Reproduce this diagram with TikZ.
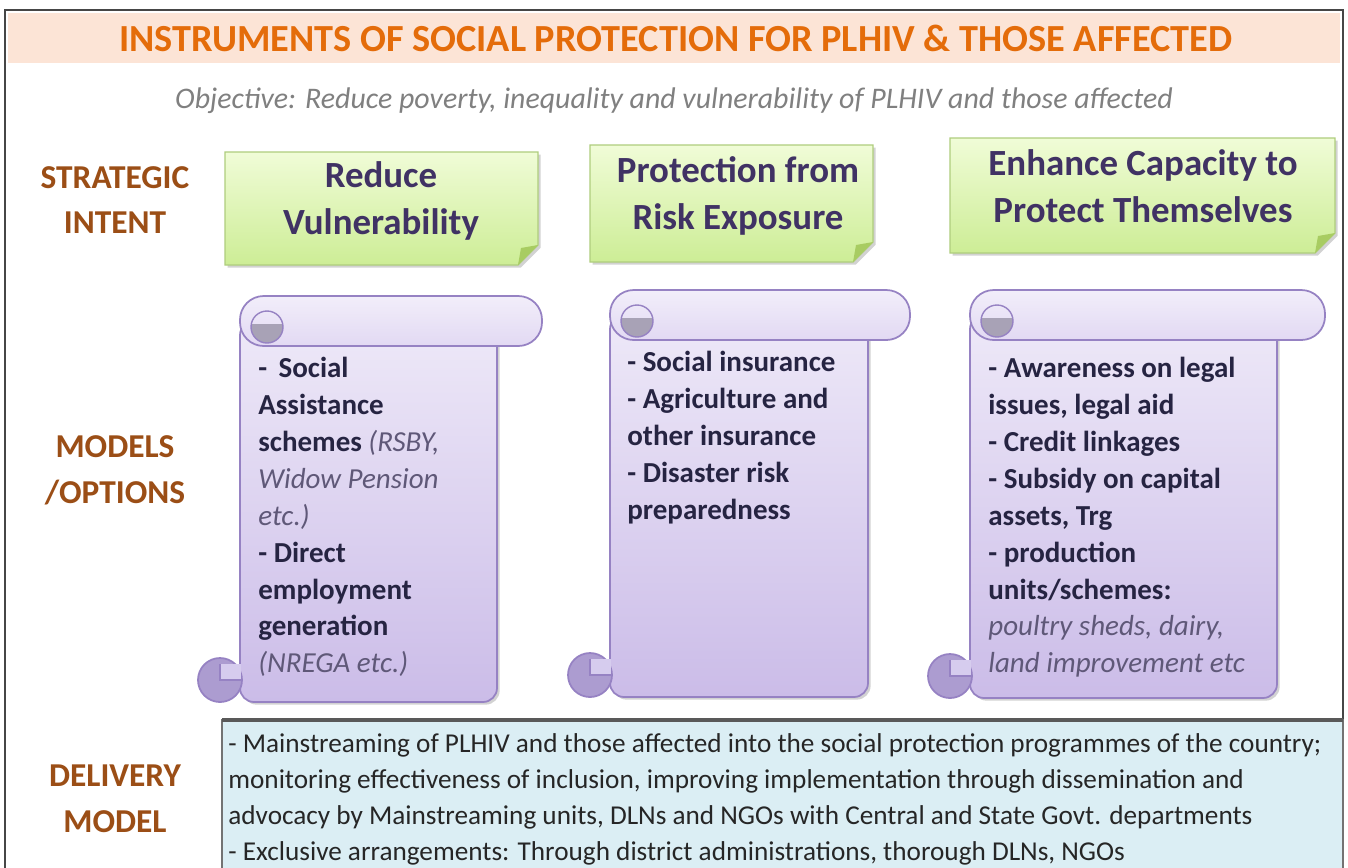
\documentclass[tikz,border=0pt]{standalone}
\usepackage{fontspec}
\setmainfont{Carlito}
\usetikzlibrary{shadows}

\begin{document}
\begin{tikzpicture}[
    x=0.02cm, y=-0.02cm,
    font=\fontsize{15}{18}\selectfont,
    rowlabel/.style={font=\bfseries\fontsize{19}{26}\selectfont, text=lblBrown, align=center, inner sep=0pt},
    intentbox/.style={draw=boxEdge, line width=0.6pt, top color=boxTop, bottom color=boxBot,
        drop shadow={opacity=0.35, shadow xshift=1.5pt, shadow yshift=-1.5pt}},
    intenttext/.style={font=\bfseries\fontsize{21}{26.6}\selectfont, text=intentInk, align=center, inner sep=0pt},
    scrollbody/.style={draw=scrollEdge, line width=1pt, top color=lavTop, bottom color=lavBot,
        drop shadow={opacity=0.35, shadow xshift=1.5pt, shadow yshift=-1.5pt}},
    scrollroll/.style={draw=scrollEdge, line width=1pt, top color=rollTop, bottom color=rollBot},
    scrolltext/.style={font=\bfseries\fontsize{16.5}{21}\selectfont, text=scrollInk, align=left, anchor=north west, inner sep=0pt},
    delivtext/.style={font=\fontsize{15.5}{20.6}\selectfont, text=black!85, align=left, anchor=north west, inner sep=0pt},
]

\definecolor{titleBand}{RGB}{252,228,214}
\definecolor{titleInk}{RGB}{228,108,10}
\definecolor{lblBrown}{RGB}{155,78,22}
\definecolor{objInk}{RGB}{128,128,128}
\definecolor{boxTop}{RGB}{240,252,215}
\definecolor{boxBot}{RGB}{205,237,150}
\definecolor{boxEdge}{RGB}{175,205,125}
\definecolor{boxFold}{RGB}{168,204,98}
\definecolor{intentInk}{RGB}{64,50,100}
\definecolor{lavTop}{RGB}{238,233,248}
\definecolor{lavBot}{RGB}{203,188,232}
\definecolor{rollTop}{RGB}{242,238,250}
\definecolor{rollBot}{RGB}{226,217,243}
\definecolor{scrollEdge}{RGB}{150,130,195}
\definecolor{curlGray}{RGB}{168,162,182}
\definecolor{curlLav}{RGB}{172,156,208}
\definecolor{notchLav}{RGB}{214,204,238}
\definecolor{scrollInk}{RGB}{38,36,66}
\definecolor{scrollSoft}{RGB}{95,88,120}
\definecolor{delivFill}{RGB}{219,238,244}
\definecolor{frameGray}{RGB}{70,70,70}

\useasboundingbox (0,0) rectangle (1348,867);
\clip (0,0) rectangle (1348,867);

% ===== Frame and title =====
\fill[white] (0,0) rectangle (1348,867);
\fill[titleBand] (8,13) rectangle (1340,63);
\draw[frameGray, line width=1.5pt] (5,900) -- (5,10) -- (1343,10) -- (1343,900);
\node[font=\bfseries\fontsize{21.8}{26}\selectfont, text=titleInk] (title) at (676,38)
    {INSTRUMENTS OF SOCIAL PROTECTION FOR PLHIV \& THOSE AFFECTED};
\node[font=\itshape\fontsize{17}{20}\selectfont, text=objInk] (objective) at (674,101)
    {Objective: Reduce poverty, inequality and vulnerability of PLHIV and those affected};

% ===== Row labels =====
\node[rowlabel] (lbl-intent) at (115,200) {STRATEGIC\\INTENT};
\node[rowlabel] (lbl-models) at (115,470) {MODELS\\/OPTIONS};
\node[rowlabel] (lbl-deliv) at (115,799) {DELIVERY\\MODEL};

% ===== Strategic intent boxes (folded corner bottom right) =====
\foreach \n/\xa/\ya/\xb/\yb/\tx/\ty/\txt in {
    vul/225/152/538/265/381/201/{Reduce\\Vulnerability},
    risk/590/145/873/262/738/196/{Protection from\\Risk Exposure},
    cap/950/138/1335/253/1143/186/{Enhance Capacity to\\Protect Themselves}} {
    \path[intentbox] (\xa,\ya) -- (\xb,\ya) -- (\xb,\yb-20) -- (\xb-20,\yb) -- (\xa,\yb) -- cycle;
    \fill[boxFold] (\xb,\yb-20) -- (\xb-20,\yb) -- (\xb-17,\yb-17) -- cycle;
    \node[intenttext] (int-\n) at (\tx,\ty) {\txt};
}

% ===== Scrolls =====
\foreach \n/\xl/\xr/\xe/\yt/\yb in {1/240/497/542/296/702, 2/610/868/910/290/697, 3/970/1277/1325/290/698} {
    % body
    \path[scrollbody, rounded corners=8pt] (\xl,\yt+25) rectangle (\xr,\yb);
    % top roll with its curl
    \path[scrollroll, rounded corners=13.5pt] (\xl,\yt) rectangle (\xe,\yt+50);
    \begin{scope}
        \clip (\xl+27,\yt+31) circle (16);
        \fill[curlGray] (\xl,\yt+28) rectangle (\xl+60,\yt+60);
    \end{scope}
    \draw[scrollEdge, line width=0.8pt] (\xl+27,\yt+31) circle (16);
    % bottom curl
    \draw[scrollEdge, fill=curlLav, line width=1pt] (\xl-20,\yb-22) circle (22);
    \fill[notchLav] (\xl-20,\yb-38) rectangle (\xl+1,\yb-22);
    \draw[scrollEdge, line width=0.8pt] (\xl-20,\yb-38) -- (\xl-20,\yb-22) -- (\xl+1,\yb-22);
    \coordinate (scroll-\n) at (\xl,\yt+50);
}

\node[scrolltext] (opt-vul) at (258,357)
    {- \,Social\\Assistance\\schemes {\mdseries\itshape\color{scrollSoft}(RSBY,}\\{\mdseries\itshape\color{scrollSoft}Widow Pension}\\{\mdseries\itshape\color{scrollSoft}etc.)}\\- Direct\\employment\\generation\\{\mdseries\itshape\color{scrollSoft}(NREGA etc.)}};
\node[scrolltext] (opt-risk) at (627,351)
    {- Social insurance\\- Agriculture and\\other insurance\\- Disaster risk\\preparedness};
\node[scrolltext] (opt-cap) at (988,357)
    {- Awareness on legal\\issues, legal aid\\- Credit linkages\\- Subsidy on capital\\assets, Trg\\- production\\units/schemes:\\{\mdseries\itshape\color{scrollSoft}poultry sheds, dairy,}\\{\mdseries\itshape\color{scrollSoft}land improvement etc}};

% ===== Delivery model =====
\path[fill=delivFill, draw=black!55, line width=0.8pt] (222,720) rectangle (1343,900);
\draw[black!65, line width=2pt] (222,720) -- (1343,720);
\node[delivtext] (deliv) at (228,733)
    {- Mainstreaming of PLHIV and those affected into the social protection programmes of the country;\\
     monitoring effectiveness of inclusion, improving implementation through dissemination and\\
     advocacy by Mainstreaming units, DLNs and NGOs with Central and State Govt. departments\\
     - Exclusive arrangements: Through district administrations, thorough DLNs, NGOs};

\end{tikzpicture}
\end{document}
